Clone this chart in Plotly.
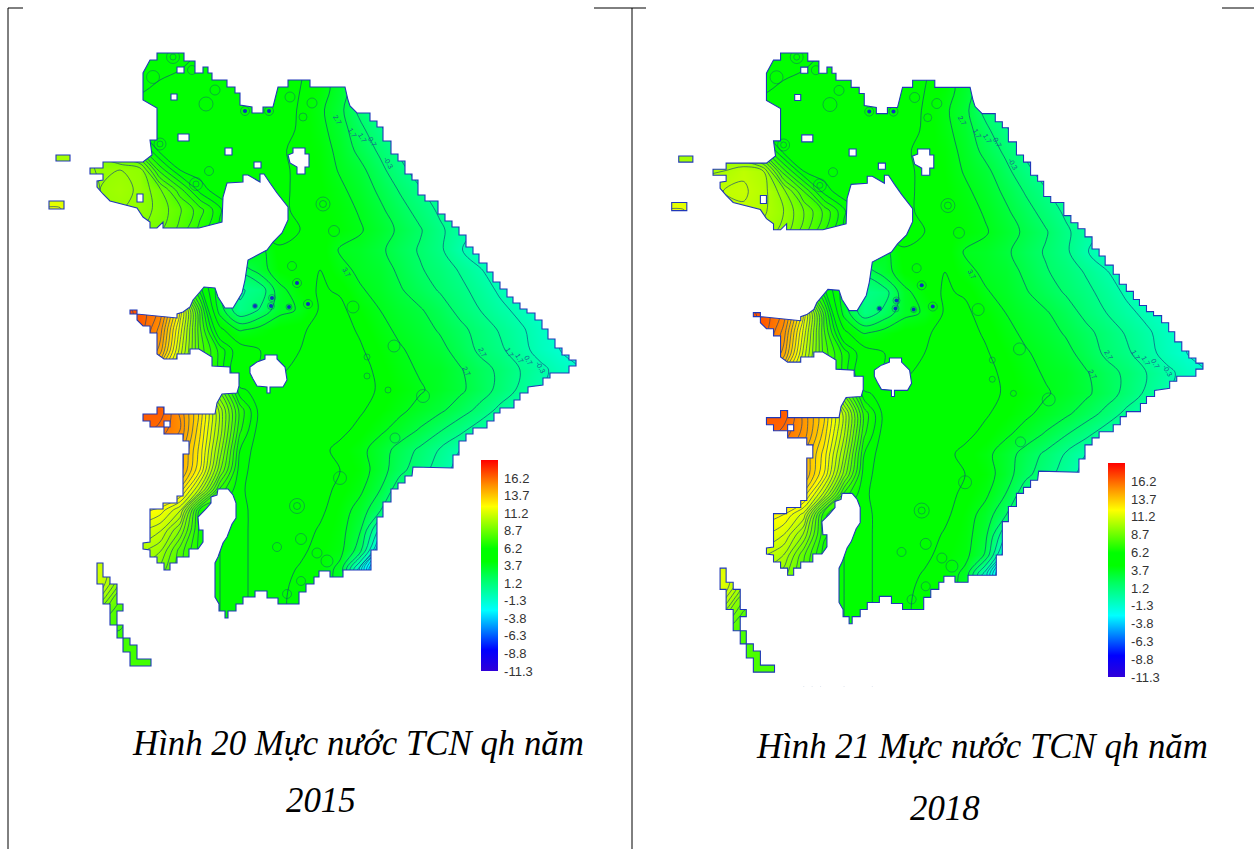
import plotly.graph_objects as go

W, H = 1254, 849
grid_x = list(range(40, 601, 20))
grid_y = list(range(50, 691, 20))
m = -1.5
z_2015 = [
 [4.5,4.5,4.5,4.5,4.5,4.5,4.4,4.3,4.7,5.2,5.2,5.2,5,4.8,4.2,3.2,2,1,0,-1,m,m,m,m,m,m,m,m,m],
 [4.5,4.5,4.5,4.5,4.5,4.4,4.5,4.7,5,5.2,5.2,5.2,5,4.8,4.2,3.2,2,1,0,-1,m,m,m,m,m,m,m,m,m],
 [5,5,5,5,5,4.6,4.9,5.2,5.1,5.1,5.2,5.2,5,4.7,4.2,3.2,2,.8,-.3,-1.2,m,m,m,m,m,m,m,m,m],
 [5,5,5,5,5,5.2,5.2,5.2,5.2,5.2,5.1,5.2,5.2,4.6,3.9,3,1.4,.3,-.7,-1.3,m,m,m,m,m,m,m,m,m],
 [6,6,6,6,6,5.6,5.4,5.2,5.2,5.2,5.2,5.2,5,4.6,4,3.2,2,.9,-.1,-1,m,m,m,m,m,m,m,m,m],
 [10,10,10,9,8,7,5.5,5.2,5.3,5.2,5.2,5.2,4.8,4.5,4.2,3.4,2.4,1.5,.5,-.4,-1.2,m,m,m,m,m,m,m,m],
 [10,10,10,9.6,9.7,9.5,7,5.7,5.4,5.2,5.2,5,4.8,4.6,4.3,3.6,3,2,1,.2,-.6,-1.2,m,m,m,m,m,m,m],
 [11,11,10.5,9.7,9.9,9.6,8.8,7.4,6,5.3,5.1,5,4.8,4.6,4.4,3.9,3.3,2.5,1.6,.8,0,-.7,-1.3,m,m,m,m,m,m],
 [11.8,11.8,10.5,9.6,9.7,9.5,9,8.3,7.4,6.3,5.5,5,4.8,4.6,4.4,4.1,3.6,2.9,2.1,1.3,.5,-.3,-1,-1.4,m,m,m,m,m],
 [9.5,9.5,9.5,9.5,9.5,9.2,8.8,8,7,6,5.4,5.2,5,4.7,4.5,4.2,3.8,3.2,2.5,1.8,.9,.1,-.6,-1.2,m,m,m,m,m],
 [6,6,6,6,6,6,6,5.5,5,4.8,4.5,3.4,4.6,4.7,4.6,3.6,3.4,2.9,2.2,1.6,.9,-.2,-1,m,m,m,m,m,m],
 [8,8,8,8,8,8,7,6,5,3.6,2,3.2,4.4,4.7,4.7,4,3.5,3.2,2.5,1.8,1.3,.6,-.2,-1,m,m,m,m,m],
 [16,16,16,16,16,14,11,8.5,6,3,.6,1,3.4,4.3,4.8,4.6,3.8,3.4,2.8,2.2,1.6,1,.3,-.5,-1,m,m,m,m],
 [17,17,17,17,17,16.5,15.5,12,7.5,3.2,.8,1.8,3.4,3.8,4.8,4.9,4.3,3.7,3.2,2.8,2.2,1.4,.7,0,-.6,-1.2,m,m,m],
 [17,17,17,17,17,16.5,15,11.5,7.8,5,3.6,4.1,4.5,4.6,4.9,5,4.6,4,3.5,3.1,2.6,2,1.3,.6,-.1,-.8,-1.3,m,m],
 [16.5,16.5,16.5,16.5,16.5,16,14.5,11,8,6.5,5.2,4.7,4.4,4.7,5,5.2,4.8,4.3,3.8,3.4,3,2.3,1.5,.9,.1,-.7,-1.3,m,m],
 [15,15,15,15,15,15,13,10.5,8,6.5,5,4.7,4.6,4.9,5.2,5.2,5,4.5,4,3.6,3.4,2.8,2.1,1.5,.7,0,-.7,-1.3,m],
 [16,16,16,16,16,16,15.5,14,11,8.5,5.8,5.5,5,5,5.2,5.2,5,4.6,4.2,3.8,3.4,2.9,2.2,1.4,.5,-.3,-1.1,m,m],
 [16.5,16.5,16.5,16.5,16.5,16.5,16.5,15,13,10,7,5.5,5.2,5.2,5.1,5,4.8,4.4,3.9,3.4,2.9,2.2,1.4,.4,-.5,-1.3,m,m,m],
 [16.5,16.5,16.5,16.5,16.5,16.5,16,15.2,12.8,10,6.8,5.4,5.2,5.2,5,4.9,4.5,3.9,3.3,2.6,1.8,1,.1,-.8,m,m,m,m,m],
 [15.5,15.5,15.5,15.5,15.5,15.5,15.2,14.6,12.5,9.5,6.2,5.3,5.2,5.2,4.9,4.5,4,3.2,2.3,1.5,.6,-.3,-1,m,m,m,m,m,m],
 [15,15,15,15,15,15,15,14.5,12.2,8.8,5.9,5.4,5.2,5.2,5.1,4.7,4.2,3.2,2,1.1,.2,-.8,m,m,m,m,m,m,m],
 [14,14,14,14,14,14,13.7,13,10.5,7,5.8,5.4,5.2,5.2,5,4.5,3.9,2.7,1,0,-1,m,m,m,m,m,m,m,m],
 [12.5,12.5,12.5,12.5,12.5,12.5,12,10.8,6.5,6.2,5.9,5.4,5.2,5.2,4.9,4.2,3.3,1.8,0,-1,m,m,m,m,m,m,m,m,m],
 [11.5,11.5,11.5,11.5,11.5,11.3,10.8,9.2,6.5,6.2,5.9,5.4,5.2,5.1,4.6,4.1,2.8,-.6,-2.5,-3,-3,-3,-3,-3,-3,-3,-3,-3,-3],
 [10.5,10.5,10.5,10.5,10.5,10.4,9.8,8,6.5,6.2,5.9,5.4,5.2,4.9,4.4,4,2.2,-3,-4,-4,-4,-4,-4,-4,-4,-4,-4,-4,-4],
 [11,11,11,11,10.2,9.6,9,7.8,6.5,6.2,5.9,5.4,5,4.6,4.3,3.4,-2,-6,-6,-6,-6,-6,-6,-6,-6,-6,-6,-6,-6],
 [11,11,11,10.8,8.7,8,7.5,7,6.5,6.2,5.9,5.4,4.9,4.4,4.3,3.5,3,3,3,3,3,3,3,3,3,3,3,3,3],
 [9.5,9.5,9.5,9,7.8,7.6,7.5,7,6.5,6.2,5.9,5.4,4.9,4.4,4.3,4,4,4,4,4,4,4,4,4,4,4,4,4,4],
 [7.7,7.7,7.7,7.7,7.7,7.7,7.7,7.7,6.5,6.2,5.9,5.4,5,5,5,5,5,5,5,5,5,5,5,5,5,5,5,5,5],
 [7.7,7.7,7.7,7.7,7.7,7.7,7.7,7.7,6.5,6.2,5.9,5.4,5,5,5,5,5,5,5,5,5,5,5,5,5,5,5,5,5],
 [7.7,7.7,7.7,7.7,7.7,7.7,7.7,7.7,6.5,6.2,5.9,5.4,5,5,5,5,5,5,5,5,5,5,5,5,5,5,5,5,5],
 [7.7,7.7,7.7,7.7,7.7,7.7,7.7,7.7,6.5,6.2,5.9,5.4,5,5,5,5,5,5,5,5,5,5,5,5,5,5,5,5,5],
]
z_2018 = [
 [4.5,4.5,4.5,4.5,4.5,4.5,4.4,4.3,4.7,5.2,5.2,5.2,5,4.8,4.2,3.2,2,1,0,-1,m,m,m,m,m,m,m,m,m],
 [4.5,4.5,4.5,4.5,4.5,4.4,4.5,4.7,5,5.2,5.2,5.2,5,4.8,4.2,3.2,2,1,0,-1,m,m,m,m,m,m,m,m,m],
 [5,5,5,5,5,4.6,4.9,5.2,5.1,5.1,5.2,5.2,5,4.7,4.2,3.2,2,.8,-.3,-1.2,m,m,m,m,m,m,m,m,m],
 [5,5,5,5,5,5.2,5.2,5.2,5.2,5.2,5.1,5.2,5.2,4.6,3.9,3,1.4,.3,-.7,-1.3,m,m,m,m,m,m,m,m,m],
 [6,6,6,6,6,5.6,5.4,5.2,5.2,5.2,5.2,5.2,5,4.6,4,3.2,2,.9,-.1,-1,m,m,m,m,m,m,m,m,m],
 [10,10,10,9.5,8.8,7.3,5.5,5.2,5.3,5.2,5.2,5.2,4.8,4.5,4.2,3.4,2.4,1.5,.5,-.4,-1.2,m,m,m,m,m,m,m,m],
 [10,10,10,10.2,10.6,10.2,7.4,5.7,5.4,5.2,5.2,5,4.8,4.6,4.3,3.6,3,2,1,.2,-.6,-1.2,m,m,m,m,m,m,m],
 [11,11,11,10.7,10.8,10.4,9.4,7.7,6,5.3,5.1,5,4.8,4.6,4.4,3.9,3.3,2.5,1.6,.8,0,-.7,-1.3,m,m,m,m,m,m],
 [11.8,11.8,11,10.5,10.6,10.3,9.7,8.7,7.6,6.3,5.5,5,4.8,4.6,4.4,4.1,3.6,2.9,2.1,1.3,.5,-.3,-1,-1.4,m,m,m,m,m],
 [10.4,10.4,10.4,10.4,10.4,10,9.5,8.4,7.2,6,5.4,5.2,5,4.7,4.5,4.2,3.8,3.2,2.5,1.8,.9,.1,-.6,-1.2,m,m,m,m,m],
 [6,6,6,6,6,6,6,5.5,5,4.8,4.5,3.4,4.6,4.7,4.6,3.6,3.4,2.9,2.2,1.6,.9,-.2,-1,m,m,m,m,m,m],
 [8,8,8,8,8,8,7,6,5,3.6,2,3.2,4.4,4.7,4.7,4,3.5,3.2,2.5,1.8,1.3,.6,-.2,-1,m,m,m,m,m],
 [16,16,16,16,16,14,11,8.5,6,3.1,.8,1.2,3.4,4.3,4.8,4.6,3.8,3.4,2.8,2.2,1.6,1,.3,-.5,-1,m,m,m,m],
 [17,17,17,17,17,16.5,15.5,12,7.5,3.3,1,2,3.4,3.8,4.8,4.9,4.3,3.7,3.2,2.8,2.2,1.4,.7,0,-.6,-1.2,m,m,m],
 [17,17,17,17,17,16.5,15,11.5,7.8,5,3.6,4.1,4.5,4.6,4.9,5,4.6,4,3.5,3.1,2.6,2,1.3,.6,-.1,-.8,-1.3,m,m],
 [16.5,16.5,16.5,16.5,16.5,16,14.5,11,8,6.5,5.2,4.7,4.4,4.7,5,5.2,4.8,4.3,3.8,3.4,3,2.3,1.5,.9,.1,-.7,-1.3,m,m],
 [15,15,15,15,15,15,13,10.5,8,6.5,5,4.7,4.6,4.9,5.2,5.2,5,4.5,4,3.6,3.4,2.8,2.1,1.5,.7,0,-.7,-1.3,m],
 [16,16,16,16,16,16,15.5,14,11.5,8.5,5.8,5.5,5,5,5.2,5.2,5,4.6,4.2,3.8,3.4,2.9,2.2,1.4,.5,-.3,-1.1,m,m],
 [16.5,16.5,16.5,16.5,16.5,16.5,16.5,15,13.2,10.5,7,5.5,5.2,5.2,5.1,5,4.8,4.4,3.9,3.4,2.9,2.2,1.4,.4,-.5,-1.3,m,m,m],
 [16.5,16.5,16.5,16.5,16.5,16.5,16,15,13,10.3,6.8,5.4,5.2,5.2,5,4.9,4.5,3.9,3.3,2.6,1.8,1,.1,-.8,m,m,m,m,m],
 [15.5,15.5,15.5,15.5,15.5,15.5,15.2,14.3,12.5,9.7,6.2,5.3,5.2,5.2,4.9,4.5,4,3.2,2.3,1.5,.6,-.3,-1,m,m,m,m,m,m],
 [15,15,15,15,15,15,15,14.3,12.2,9,5.9,5.4,5.2,5.2,5.1,4.7,4.2,3.2,2,1.1,.2,-.8,m,m,m,m,m,m,m],
 [14,14,14,14,14,14,13.7,13,10.5,7,5.8,5.4,5.2,5.2,5,4.5,3.9,2.7,1,0,-1,m,m,m,m,m,m,m,m],
 [12.5,12.5,12.5,12.5,12.5,12.5,12.2,11,6.8,6.2,5.9,5.4,5.2,5.2,4.9,4.2,3.3,1.8,.3,-.6,m,m,m,m,m,m,m,m,m],
 [12,12,12,12,12,11.8,11.2,9.6,6.8,6.2,5.9,5.4,5.2,5.1,4.6,4.1,3,-.2,-2,-2.5,-2.5,-2.5,-2.5,-2.5,-2.5,-2.5,-2.5,-2.5,-2.5],
 [11,11,11,11,11,10.8,10.2,8.3,6.5,6.2,5.9,5.4,5.2,4.9,4.4,4,2.6,-2.2,-3,-3,-3,-3,-3,-3,-3,-3,-3,-3,-3],
 [11.5,11.5,11.5,11.5,10.7,10,9.4,8,6.5,6.2,5.9,5.4,5,4.6,4.3,3.4,-1,-4.5,-4.5,-4.5,-4.5,-4.5,-4.5,-4.5,-4.5,-4.5,-4.5,-4.5,-4.5],
 [11.5,11.5,11.5,11.2,9,8.2,7.6,7,6.5,6.2,5.9,5.4,4.9,4.4,4.3,3.5,3,3,3,3,3,3,3,3,3,3,3,3,3],
 [10,10,10,9.4,8,7.7,7.5,7,6.5,6.2,5.9,5.4,4.9,4.4,4.3,4,4,4,4,4,4,4,4,4,4,4,4,4,4],
 [7.9,7.9,7.9,7.9,7.9,7.9,7.9,7.7,6.5,6.2,5.9,5.4,5,5,5,5,5,5,5,5,5,5,5,5,5,5,5,5,5],
 [7.9,7.9,7.9,7.9,7.9,7.9,7.9,7.7,6.5,6.2,5.9,5.4,5,5,5,5,5,5,5,5,5,5,5,5,5,5,5,5,5],
 [7.9,7.9,7.9,7.9,7.9,7.9,7.9,7.7,6.5,6.2,5.9,5.4,5,5,5,5,5,5,5,5,5,5,5,5,5,5,5,5,5],
 [7.9,7.9,7.9,7.9,7.9,7.9,7.9,7.7,6.5,6.2,5.9,5.4,5,5,5,5,5,5,5,5,5,5,5,5,5,5,5,5,5],
]

main_outline = [(157,53),(184,53),(184,61),(195,61),(195,73),(203,73),(203,67),(208,67),(208,73),(212,73),(212,80),(227,80),(227,87),(235,87),(235,93),(240,93),(240,105),(252,107),(252,113),(263,113),(263,107),(273,107),(278,87),(288,87),(288,80),(310,80),(310,87),(340,87),(345,87),(348,100),(350,106),(357,113),(370,113),(370,121),(377,121),(377,127),(383,127),(383,141),(391,141),(391,154),(398,154),(398,161),(405,161),(405,174),(412,174),(412,180),(418,180),(418,195),(425,195),(425,201),(438,201),(438,214),(445,214),(445,221),(452,221),(452,227),(459,227),(459,235),(466,235),(466,247),(473,247),(473,254),(479,254),(479,263),(487,263),(487,272),(493,272),(493,282),(500,282),(500,289),(507,289),(507,297),(513,297),(513,303),(520,303),(520,309),(527,309),(527,313),(535,313),(535,320),(542,320),(542,329),(548,329),(548,339),(555,339),(555,348),(562,348),(562,355),(569,355),(569,360),(576,360),(576,366),(569,366),(569,373),(550,373),(550,378),(543,378),(543,385),(528,387),(528,393),(520,393),(520,400),(514,400),(514,408),(500,408),(500,413),(494,413),(494,421),(487,421),(487,428),(473,428),(473,434),(466,434),(466,441),(459,441),(459,455),(453,455),(453,468),(413,467),(412,476),(405,476),(405,483),(398,483),(398,489),(391,489),(391,502),(383,502),(383,517),(377,517),(377,550),(371,550),(371,570),(343,570),(343,577),(330,577),(330,571),(319,571),(319,577),(314,577),(314,584),(306,584),(306,592),(299,592),(299,604),(278,604),(278,598),(267,598),(267,591),(255,591),(255,597),(243,597),(243,604),(236,604),(236,611),(228,611),(228,618),(225,618),(225,611),(219,611),(219,604),(215,597),(215,563),(218,557),(223,543),(227,537),(232,524),(236,518),(236,503),(233,495),(228,489),(218,489),(217,495),(211,497),(211,503),(205,510),(198,517),(199,530),(203,530),(203,542),(198,549),(189,549),(189,557),(177,557),(177,563),(170,563),(170,570),(164,570),(164,563),(157,563),(157,557),(150,557),(150,550),(143,549),(143,543),(150,542),(150,509),(163,509),(163,503),(177,503),(177,496),(183,496),(183,454),(189,454),(189,441),(183,441),(183,434),(164,434),(164,427),(150,427),(150,421),(143,421),(143,414),(157,414),(157,407),(164,407),(164,414),(177,414),(215,414),(217,403),(222,394),(237,393),(239,386),(239,373),(230,373),(230,367),(212,366),(212,357),(199,349),(190,349),(190,354),(177,354),(177,359),(164,359),(157,354),(157,333),(150,333),(150,326),(143,326),(137,320),(137,314),(177,318),(177,314),(183,312),(190,307),(193,300),(199,293),(204,287),(215,288),(218,297),(225,308),(233,308),(242,293),(245,280),(248,260),(267,250),(273,242),(282,233),(288,220),(288,207),(277,193),(270,183),(264,174),(260,174),(260,182),(248,175),(243,175),(243,182),(227,183),(223,197),(222,222),(199,228),(163,228),(163,222),(157,228),(150,228),(150,222),(143,217),(137,208),(110,201),(103,194),(97,187),(97,181),(103,180),(103,174),(90,174),(90,168),(103,168),(103,162),(143,162),(152,155),(150,140),(157,140),(157,108),(143,100),(143,73),(150,60),(157,60)]
islands = [
 [(56,155),(70,155),(70,161),(56,161)],
 [(49,201),(64,201),(64,209),(49,209)],
 [(130,310),(137,310),(137,314),(130,314)],
 [(97,563),(103,563),(103,577),(110,577),(110,584),(117,584),(117,604),(123,604),(123,611),(117,611),(117,625),(123,625),(123,638),(130,638),(130,645),(137,645),(137,659),(151,659),(151,666),(130,666),(130,652),(123,652),(123,638),(117,638),(117,625),(110,625),(110,604),(103,604),(103,584),(97,584)],
]
holes = [
 [(177,67),(184,67),(184,73),(177,73)],
 [(171,94),(177,94),(177,100),(171,100)],
 [(178,134),(189,134),(189,141),(178,141)],
 [(225,148),(232,148),(232,155),(225,155)],
 [(254,162),(261,162),(261,168),(254,168)],
 [(137,194),(143,194),(143,202),(137,202)],
 [(164,421),(170,421),(170,427),(164,427)],
 [(293,148),(305,148),(305,154),(309,154),(309,167),(305,167),(305,174),(297,174),(297,167),(290,163),(288,155),(293,153)],
 [(250,367),(257,362),(265,359),(265,355),(277,355),(277,359),(285,367),(287,380),(283,387),(270,387),(270,393),(267,393),(267,387),(257,386),(253,379),(250,373)],
]
well_x = [173,173,153,192,215,206,245,269,290,312,303,160,160,209,196,196,323,323,334,292,297,272,255,271,289,308,340,297,297,301,277,317,327,301,287,353,394,367,367,388,423,395]
well_y = [57,57,77,70,90,104,111,111,97,103,117,144,144,171,184,184,204,204,231,266,283,298,306,306,307,304,478,506,506,539,547,553,561,581,594,307,346,357,376,390,396,438]
well_size = [13,6,13,9,10,14,9,9,10,10,8,12,6,9,13,6,14,7,11,9,9,7,5,7,6,9,13,15,7,11,9,10,12,9,9,12,12,6,6,6,13,10]
dark_x = [272,255,271,289,308,297,245,269]
dark_y = [298,306,306,307,304,283,111,111]
level_label_x = [337,352,362,372,388,483,510,520,529,541,467,347]
level_label_y = [120,133,138,142,163,352,352,358,360,367,371,272]
level_label_text = ["2.7","1.7","1.7","0.7","-0.3","2.7","1.7","1.7","0.7","-0.3","2.7","3.7"]
bar_ticks = [16.2,13.7,11.2,8.7,6.2,3.7,1.2,-1.3,-3.8,-6.3,-8.8,-11.3]
contour_bands = [(-11.3,-1.3,0.5),(-0.3,5.7,1.0),(6.2,18.7,0.5)]
ZMIN, ZMAX = -11.3, 18.77
colors = [[0,"#3000d8"],[.1,"#0000ff"],[.287,"#00ffff"],[.37,"#00ffa8"],[.44,"#00ff60"],[.52,"#00ff00"],[.58,"#00ff00"],[.78,"#ffff00"],[.88,"#ff9000"],[1,"#ff0000"]]

def path_of(poly):
    return "M" + "L".join(f"{x},{y}" for x, y in poly) + "Z"

all_rings = [main_outline] + islands + holes
fig = go.Figure()
panels = [
 dict(z=z_2015, xa="x", ya="y", bar_x=481, bar_top=460, bar_len=210.7),
 dict(z=z_2018, xa="x2", ya="y2", bar_x=1108, bar_top=463, bar_len=214),
]
shapes, annos = [], []
for p in panels:
    fig.add_trace(go.Heatmap(x=grid_x, y=grid_y, z=p["z"], zmin=ZMIN, zmax=ZMAX, zsmooth="best",
        colorscale=colors, xaxis=p["xa"], yaxis=p["ya"], hoverinfo="skip",
        colorbar=dict(x=p["bar_x"]/W, xanchor="left", xpad=0, ypad=0, y=1-p["bar_top"]/H, yanchor="top",
                      len=p["bar_len"], lenmode="pixels", thickness=17, thicknessmode="pixels",
                      outlinewidth=0, ticks="outside", ticklen=4, tickcolor="rgba(0,0,0,0)", tickmode="array",
                      tickvals=bar_ticks, ticktext=[str(t) for t in bar_ticks],
                      tickfont=dict(family="Liberation Sans", size=13, color="#333"))))
    for lo, hi, step in contour_bands:
        fig.add_trace(go.Contour(x=grid_x, y=grid_y, z=p["z"], showscale=False, xaxis=p["xa"], yaxis=p["ya"],
            autocontour=False, contours=dict(start=lo, end=hi, size=step, coloring="none"),
            line=dict(color="rgba(15,60,130,0.8)", width=0.8, smoothing=1), hoverinfo="skip"))
    fig.add_trace(go.Scatter(x=well_x, y=well_y, mode="markers", xaxis=p["xa"], yaxis=p["ya"], hoverinfo="skip",
        marker=dict(symbol="circle-open", size=well_size, color="rgba(15,80,120,0.8)", line=dict(width=0.8))))
    fig.add_trace(go.Scatter(x=dark_x, y=dark_y, mode="markers", xaxis=p["xa"], yaxis=p["ya"], hoverinfo="skip",
        marker=dict(size=4, color="#1030c0")))
    d = "M-50,0L700,0L700,720L-50,720Z" + "".join(path_of(r) for r in all_rings)
    shapes.append(dict(type="path", path=d, fillrule="evenodd", fillcolor="white", line=dict(width=0),
                       xref=p["xa"], yref=p["ya"], layer="above"))
    shapes.append(dict(type="path", path="".join(path_of(r) for r in all_rings), fillcolor="rgba(0,0,0,0)",
                       line=dict(color="#2038b8", width=1.1), xref=p["xa"], yref=p["ya"], layer="above"))
    for lx, ly, lt in zip(level_label_x, level_label_y, level_label_text):
        annos.append(dict(x=lx, y=ly, text=lt, xref=p["xa"], yref=p["ya"], showarrow=False, textangle=60,
                          font=dict(size=7, family="Liberation Sans", color="#1a5a90")))

frame = [(8,8,23,8),(8,8,8,849),(594,8,646,8),(632,8,632,849),(1222,8,1254,8)]
for x0,y0,x1,y1 in frame:
    shapes.append(dict(type="line", xref="paper", yref="paper", x0=x0/W, x1=x1/W, y0=1-y0/H, y1=1-y1/H,
                       line=dict(color="black", width=1), layer="above"))

captions = [("Hình 20 Mực nước TCN qh năm",358,743),("2015",321,800),("Hình 21 Mực nước TCN qh năm",982,746),("2018",945,808)]
for t, x, y in captions:
    annos.append(dict(text=f"<i>{t}</i>", x=x/W, y=1-y/H, xref="paper", yref="paper", showarrow=False,
                      xanchor="center", yanchor="middle",
                      font=dict(family="Liberation Serif", size=34.8, color="black")))

axis = dict(visible=False, showgrid=False, zeroline=False)
fig.update_layout(width=W, height=H, margin=dict(l=0,r=0,t=0,b=0), paper_bgcolor="white", plot_bgcolor="white",
    showlegend=False, shapes=shapes, annotations=annos,
    xaxis=dict(axis, domain=[0, 620/W], range=[0,620], anchor="y"),
    yaxis=dict(axis, domain=[1-680/H, 1-50/H], range=[680,50], anchor="x"),
    xaxis2=dict(axis, domain=[622.3/W, 1247.3/W], range=[0,620], anchor="y2"),
    yaxis2=dict(axis, domain=[1-686.3/H, 1-50/H], range=[680,50], anchor="x2"))
fig.write_html("out.html", config=dict(displayModeBar=False),
               post_script="document.body.style.margin='0';document.body.style.overflow='hidden';")
